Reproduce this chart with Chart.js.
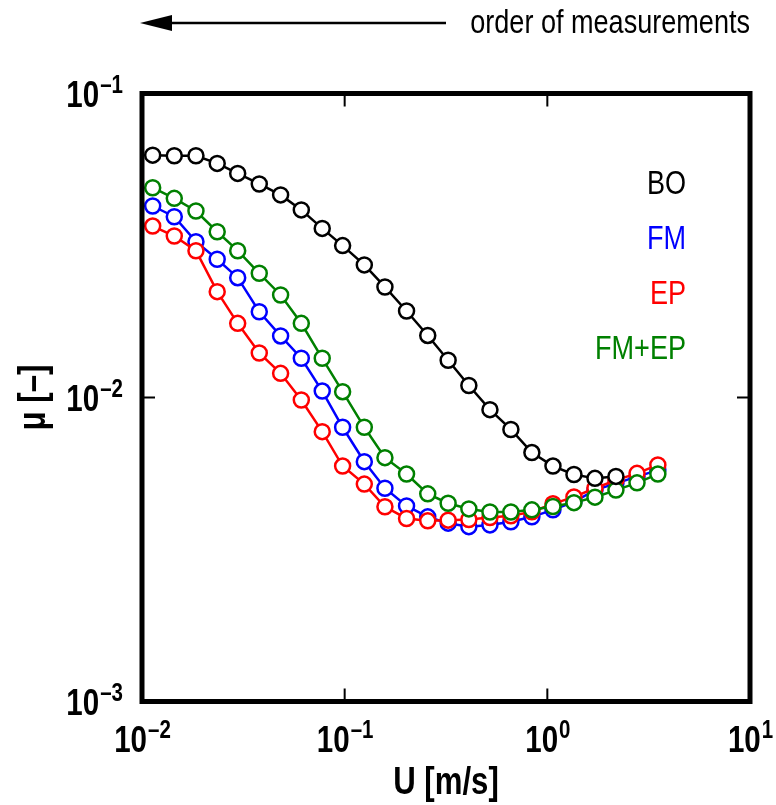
<!DOCTYPE html>
<html><head><meta charset="utf-8">
<script src="https://cdn.jsdelivr.net/npm/chart.js@4/dist/chart.umd.min.js"></script>
<style>html,body{margin:0;padding:0;background:#fff}#wrap{width:776px;height:805px;position:relative}</style>
</head><body><div id="wrap"><canvas id="c" width="776" height="805"></canvas></div>
<script>
// velocity U [m/s]
const velocity = [0.01129, 0.01443, 0.01846, 0.0235, 0.02966, 0.0379, 0.0483, 0.0611, 0.0775, 0.0977,
  0.125, 0.158, 0.202, 0.257, 0.324, 0.410, 0.521, 0.661, 0.839, 1.066, 1.353, 1.718, 2.18, 2.77, 3.51];
// friction coefficient mu [-]
const muBO = [0.0627, 0.0624, 0.0624, 0.0589, 0.0546, 0.0504, 0.0464, 0.0414, 0.0360, 0.0316,
  0.0273, 0.0231, 0.01925, 0.0160, 0.01326, 0.01095, 0.00912, 0.00785, 0.00659, 0.00595,
  0.00558, 0.00542, 0.00550];
const muFM = [0.04265, 0.03932, 0.03255, 0.02849, 0.02478, 0.01915, 0.01594, 0.01346, 0.01050, 0.00798,
  0.00615, 0.00503, 0.00440, 0.00405, 0.00386, 0.00376, 0.00381, 0.00390, 0.00405, 0.00427,
  0.00454, 0.00496, 0.00522, 0.00549, 0.00577];
const muEP = [0.03664, 0.03398, 0.03040, 0.02229, 0.01754, 0.01401, 0.01201, 0.00981, 0.00772, 0.00595,
  0.00519, 0.00437, 0.00400, 0.00393, 0.00395, 0.00397, 0.00403, 0.00408, 0.00421, 0.00447,
  0.00471, 0.00503, 0.00535, 0.00563, 0.00600];
const muFMEP = [0.04898, 0.04519, 0.04107, 0.03509, 0.03040, 0.02562, 0.02174, 0.01754, 0.01346, 0.01045,
  0.00798, 0.00634, 0.00560, 0.00482, 0.00449, 0.00430, 0.00420, 0.00420, 0.00427, 0.00438,
  0.00451, 0.00470, 0.00496, 0.00524, 0.00560];
const seriesNames = ['BO', 'FM', 'EP', 'FM+EP'];
const xTickValues = [0.01, 0.1, 1, 10];
const xTickLabels = [['10', '–2'], ['10', '–1'], ['10', '0'], ['10', '1']];
const yTickValues = [0.001, 0.01, 0.1];
const yTickLabels = [['10', '–3'], ['10', '–2'], ['10', '–1']];
const xTitle = 'U [m/s]';
const yTitle = 'μ [–]';
const note = 'order of measurements';

function pts(ys) { return ys.map((y, i) => ({ x: velocity[i], y: y })); }

let narrowOK = false;
(function () {
  const c = document.createElement('canvas').getContext('2d');
  c.font = '30px monospace';
  const a = c.measureText('order of measurements').width;
  c.font = '30px "Liberation Sans Narrow", monospace';
  const b = c.measureText('order of measurements').width;
  narrowOK = Math.abs(a - b) > 1;
})();

function txt(ctx, s, x, y, size, bold, align, color) {
  ctx.save();
  ctx.fillStyle = color || '#000';
  ctx.textBaseline = 'alphabetic';
  ctx.textAlign = align;
  if (narrowOK) {
    ctx.font = (bold ? 'bold ' : '') + size + 'px "Liberation Sans Narrow"';
    ctx.fillText(s, x, y);
  } else {
    ctx.font = (bold ? 'bold ' : '') + size + 'px "Liberation Sans", Arial, sans-serif';
    ctx.translate(x, y);
    ctx.scale(0.82, 1);
    ctx.fillText(s, 0, 0);
  }
  ctx.restore();
}
function tw(ctx, s, size, bold) {
  ctx.save();
  let w;
  if (narrowOK) { ctx.font = (bold ? 'bold ' : '') + size + 'px "Liberation Sans Narrow"'; w = ctx.measureText(s).width; }
  else { ctx.font = (bold ? 'bold ' : '') + size + 'px "Liberation Sans", Arial, sans-serif'; w = ctx.measureText(s).width * 0.82; }
  ctx.restore();
  return w;
}
function powLabel(ctx, lab, x, y, align) {
  const bs = 36, es = 25;
  const wb = tw(ctx, lab[0], bs, true), we = tw(ctx, lab[1], es, true);
  let left;
  if (align === 'center') left = x - (wb + we) / 2;
  else left = x - (wb + we);
  txt(ctx, lab[0], left, y, bs, true, 'left');
  txt(ctx, lab[1], left + wb + 1, y - 14, es, true, 'left');
}

const framePlugin = {
  id: 'frame',
  afterDraw(chart) {
    const ctx = chart.ctx, a = chart.chartArea;
    const xs = chart.scales.x, ys = chart.scales.y;
    ctx.save();
    ctx.strokeStyle = '#000';
    ctx.lineWidth = 2;
    ctx.beginPath();
    xTickValues.forEach(v => {
      const p = xs.getPixelForValue(v);
      ctx.moveTo(p, a.bottom); ctx.lineTo(p, a.bottom - 13);
      ctx.moveTo(p, a.top); ctx.lineTo(p, a.top + 13);
    });
    yTickValues.forEach(v => {
      const p = ys.getPixelForValue(v);
      ctx.moveTo(a.left, p); ctx.lineTo(a.left + 13, p);
      ctx.moveTo(a.right, p); ctx.lineTo(a.right - 13, p);
    });
    ctx.stroke();
    ctx.lineWidth = 5;
    ctx.strokeRect(a.left, a.top, a.right - a.left, a.bottom - a.top);
    ctx.restore();
    xTickValues.forEach((v, i) => powLabel(ctx, xTickLabels[i], xs.getPixelForValue(v), a.bottom + 50, 'center'));
    yTickValues.forEach((v, i) => powLabel(ctx, yTickLabels[i], a.left - 20, ys.getPixelForValue(v) + 13, 'right'));
    txt(ctx, xTitle, (a.left + a.right) / 2, a.bottom + 92, 38, true, 'center');
    ctx.save();
    ctx.translate(45, (a.top + a.bottom) / 2);
    ctx.rotate(-Math.PI / 2);
    txt(ctx, yTitle, 0, 0, 38, true, 'center');
    ctx.restore();
    chart.data.datasets.forEach((d, i) => {
      txt(ctx, d.label, 686, 194 + i * 55, 33, false, 'right', d.borderColor);
    });
    ctx.save();
    ctx.strokeStyle = '#000'; ctx.fillStyle = '#000'; ctx.lineWidth = 2.5;
    ctx.beginPath(); ctx.moveTo(168, 23); ctx.lineTo(446, 23); ctx.stroke();
    ctx.beginPath(); ctx.moveTo(140, 23); ctx.lineTo(172, 15); ctx.lineTo(172, 31); ctx.closePath(); ctx.fill();
    ctx.restore();
    txt(ctx, note, 750, 33, 33, false, 'right');
  }
};

function ds(label, data, color, order) {
  return {
    label, data: pts(data), borderColor: color, backgroundColor: '#fff',
    borderWidth: 2.5, pointRadius: 7.5, pointBorderWidth: 2.5, pointBackgroundColor: '#fff',
    pointBorderColor: color, tension: 0, fill: false, order, clip: false
  };
}

new Chart(document.getElementById('c'), {
  type: 'line',
  data: {
    datasets: [
      ds(seriesNames[0], muBO, '#000000', 0),
      ds(seriesNames[1], muFM, '#0000ff', 3),
      ds(seriesNames[2], muEP, '#ff0000', 2),
      ds(seriesNames[3], muFMEP, '#008000', 1)
    ]
  },
  options: {
    responsive: false, animation: false, devicePixelRatio: 1,
    layout: { padding: { left: 142, right: 26, top: 93.5, bottom: 103.5 } },
    scales: {
      x: { type: 'logarithmic', min: 0.01, max: 10, display: false },
      y: { type: 'logarithmic', min: 0.001, max: 0.1, display: false }
    },
    plugins: { legend: { display: false }, tooltip: { enabled: false } }
  },
  plugins: [framePlugin]
});
</script></body></html>
